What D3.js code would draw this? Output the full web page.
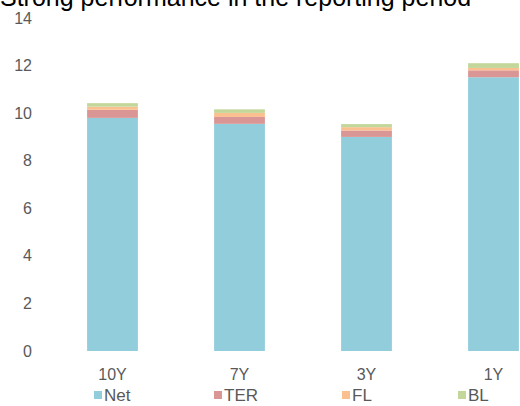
<!DOCTYPE html>
<html>
<head>
<meta charset="utf-8">
<script src="https://cdn.jsdelivr.net/npm/d3@7"></script>
<style>
  body { margin: 0; background: #fff; }
  svg { display: block; font-family: "Liberation Sans", Arial, sans-serif; }
</style>
</head>
<body>
<div id="container"></div>
<script>
let w = 520;
let h = 406;

// data
let periods = ["10Y", "7Y", "3Y", "1Y"];
let netValues = [9.80, 9.55, 9.00, 11.51];
let terValues = [0.34, 0.29, 0.27, 0.29];
let flValues = [0.13, 0.17, 0.14, 0.10];
let blValues = [0.15, 0.15, 0.13, 0.20];
let seriesNames = ["Net", "TER", "FL", "BL"];
let seriesColors = ["#92cddc", "#da9694", "#fac090", "#c4d79b"];
let yTicks = [0, 2, 4, 6, 8, 10, 12, 14];

let rows = periods.map((p, i) => ({
  period: p,
  Net: netValues[i],
  TER: terValues[i],
  FL: flValues[i],
  BL: blValues[i]
}));

let viz = d3.select("#container")
  .append("svg")
  .attr("width", w)
  .attr("height", h);

// title, mostly cropped off at the top
viz.append("text")
  .attr("x", 0)
  .attr("y", 6)
  .attr("font-size", "25px")
  .attr("fill", "#000")
  .text("Strong performance in the reporting period");

let xScale = d3.scaleBand().domain(periods).range([49, 557]).paddingInner(0.6).paddingOuter(0.3);
let yScale = d3.scaleLinear().domain([0, 14]).range([351, 18]);

let stack = d3.stack().keys(seriesNames);
let stacked = stack(rows);

let color = d3.scaleOrdinal().domain(seriesNames).range(seriesColors);

viz.append("g")
  .selectAll("g")
  .data(stacked)
  .enter()
  .append("g")
    .attr("fill", d => color(d.key))
  .selectAll("rect")
  .data(d => d)
  .enter()
  .append("rect")
    .attr("x", d => xScale(d.data.period))
    .attr("width", xScale.bandwidth())
    .attr("y", d => yScale(d[1]))
    .attr("height", d => yScale(d[0]) - yScale(d[1]));

// y axis labels
let yAxis = d3.axisLeft(yScale).tickValues(yTicks).tickSize(0).tickPadding(0);
let yAxisGroup = viz.append("g")
  .attr("transform", "translate(32,0)")
  .call(yAxis);
yAxisGroup.select(".domain").remove();
yAxisGroup.selectAll("text")
  .attr("font-size", "16px")
  .attr("font-family", "Liberation Sans, Arial, sans-serif")
  .attr("fill", "#595959");

// x axis labels
let xAxis = d3.axisBottom(xScale).tickSize(0).tickPadding(0);
let xAxisGroup = viz.append("g")
  .attr("transform", "translate(0,369)")
  .call(xAxis);
xAxisGroup.select(".domain").remove();
xAxisGroup.selectAll("text")
  .attr("font-size", "16px")
  .attr("font-family", "Liberation Sans, Arial, sans-serif")
  .attr("fill", "#595959");

// legend
let legendX = [94, 214, 342, 458];
let legend = viz.append("g").selectAll("g")
  .data(seriesNames)
  .enter()
  .append("g")
  .attr("transform", (d, i) => "translate(" + legendX[i] + ",390)");

legend.append("rect")
  .attr("y", 1)
  .attr("width", 8)
  .attr("height", 8)
  .attr("fill", d => color(d));

legend.append("text")
  .attr("x", 10)
  .attr("y", 11)
  .attr("font-size", "17px")
  .attr("fill", "#595959")
  .text(d => d);
</script>
</body>
</html>
